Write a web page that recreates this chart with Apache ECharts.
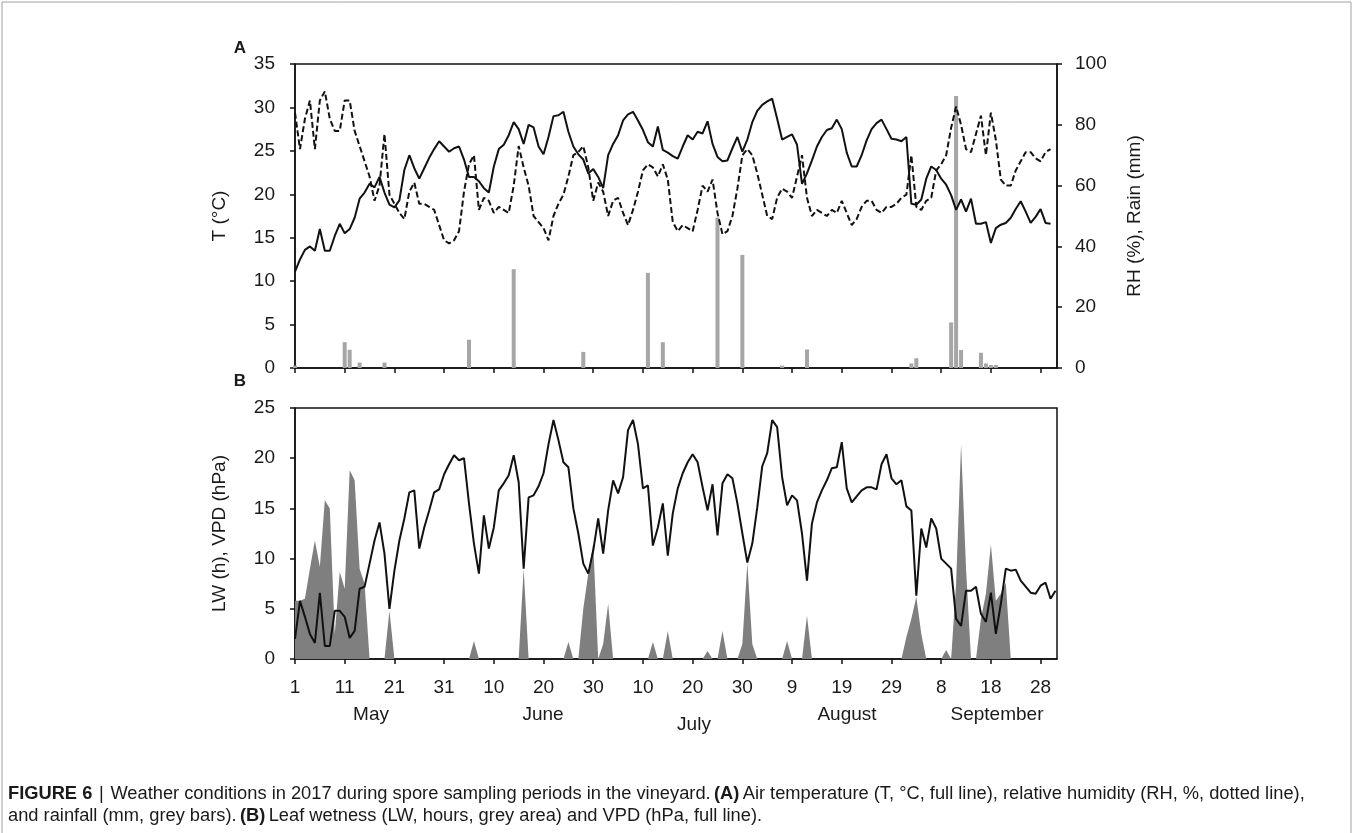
<!DOCTYPE html>
<html>
<head>
<meta charset="utf-8">
<script src="https://cdn.jsdelivr.net/npm/echarts@6/dist/echarts.min.js"></script>
<style>
html,body{margin:0;padding:0;background:#fff;}
#chart{width:1355px;height:833px;}
</style>
</head>
<body>
<div id="chart"></div>
<script>
// Day index 0 = 1 May 2017
const xTickValues = [0,10,20,30,40,50,60,70,80,90,100,110,120,130,140,150];
const xTickLabels = ['1','11','21','31','10','20','30','10','20','30','9','19','29','8','18','28'];
const monthNames = ['May','June','July','August','September'];

// Panel A: air temperature (°C), daily
const temperature = [
11.1,12.5,13.6,14.0,13.5,16.0,13.5,13.5,15.2,16.6,
15.5,16.0,17.3,19.5,20.2,21.2,20.8,22.0,20.2,18.8,
18.5,19.3,22.8,24.5,23.0,21.8,23.0,24.2,25.2,26.1,
25.5,24.9,25.3,25.5,24.0,22.0,22.0,21.5,20.7,20.2,
23.2,25.2,25.7,26.8,28.3,27.5,25.8,28.0,27.7,25.5,
24.6,26.6,29.0,29.1,29.5,27.2,25.5,24.6,24.0,22.4,
22.9,22.0,20.7,24.5,25.8,26.8,28.5,29.2,29.5,28.5,
27.4,26.0,25.5,27.8,25.1,24.8,24.4,24.1,25.5,26.8,
26.3,27.2,27.0,28.4,25.8,24.3,23.8,23.9,25.3,26.6,
24.9,26.3,28.3,29.6,30.3,30.7,31.0,28.7,26.3,26.6,
26.9,25.7,21.2,22.4,23.9,25.5,26.6,27.4,27.6,28.6,
27.5,24.8,23.2,23.2,24.5,26.2,27.5,28.2,28.6,27.5,
26.4,26.3,26.1,26.6,18.9,18.8,19.4,21.8,23.2,22.8,
21.8,21.1,19.9,18.2,19.4,18.0,19.5,16.6,16.6,16.8,
14.4,16.1,16.5,16.7,17.3,18.3,19.2,18.0,16.7,17.4,
18.3,16.7,16.6
];

// Panel A: relative humidity (%), daily
const humidity = [
84,72,82,88,72,88,91,82,78,78,
88,88,78,73,68,63,55,60,77,57,
54,51,49,58,61,54,54,53,52,47,
42,41,42,45,58,67,70,52,56,55,
51,53,52,51,60,73,66,60,50,48,
46,42,50,54,57,63,70,71,73,66,
55,61,58,50,55,56,51,47,52,58,
65,67,66,63,67,62,48,45,47,46,
45,52,60,58,62,51,44,45,50,59,
70,72,70,64,57,50,49,56,59,58,
56,63,70,56,50,52,51,50,52,51,
55,51,47,49,53,55,55,52,51,53,
53,54,56,57,70,53,52,55,56,65,
67,70,79,86,80,72,71,77,83,70,
84,75,62,60,60,65,68,71,71,69,
68,71,72
];

// Panel A: rainfall (mm), days with rain
const rainDays   = [0,10,11,13,18,35,44,58,71,74,85,90,98,103,124,125,132,133,134,138,139,140,141];
const rainValues = [0.8,8.5,6.0,1.8,1.8,9.3,32.5,5.3,31.3,8.5,49.5,37.2,0.8,6.1,1.5,3.2,15.0,89.5,5.9,5.0,1.5,1.0,1.0];

// Panel B: leaf wetness (h), daily
const leafWetness = [
5.8,5.8,6.0,9.0,11.8,9.2,15.8,15.0,2.5,8.7,
7.0,18.8,17.8,9.0,7.5,0,0,0,0,4.8,
0,0,0,0,0,0,0,0,0,0,
0,0,0,0,0,0,1.8,0,0,0,
0,0,0,0,0,0,9.0,0,0,0,
0,0,0,0,0,1.7,0,0,5.0,8.5,
11.5,0,1.5,5.5,0,0,0,0,0,0,
0,0,1.7,0,0,2.8,0,0,0,0,
0,0,0,0.8,0,0,2.8,0,0,0,
1.5,9.6,1.5,0,0,0,0,0,0,1.8,
0,0,0,4.3,0,0,0,0,0,0,
0,0,0,0,0,0,0,0,0,0,
0,0,0,2.2,4.0,6.2,2.5,0,0,0,
0,0.9,0,7.5,21.4,9.0,0,0,4.0,6.5,
11.4,5.8,6.5,7.6,0,0,0,0,0,0,
0,0,0,0
];

// Panel B: vapour pressure deficit (hPa), daily
const vpd = [
2.0,5.8,4.2,2.5,1.6,6.6,1.3,1.3,4.8,4.8,
4.2,2.1,2.8,7.0,7.2,9.5,11.8,13.6,10.5,5.0,
8.8,11.8,14.0,16.6,16.8,11.0,13.1,14.8,16.6,16.9,
18.4,19.4,20.3,19.8,20.0,15.5,11.5,8.5,14.3,11.0,
13.1,16.8,17.5,18.3,20.3,17.6,9.0,16.1,16.3,17.2,
18.5,21.4,23.8,21.8,19.6,19.1,15.0,12.5,9.5,8.5,
10.8,14.0,10.5,14.8,17.8,16.5,18.1,22.8,23.8,21.4,
17.0,17.3,11.3,13.1,15.5,10.3,14.5,17.0,18.5,19.6,
20.4,19.6,17.1,14.8,17.4,12.3,17.5,18.4,18.0,15.5,
12.5,9.6,11.5,15.1,19.2,20.5,23.8,23.1,18.1,15.3,
16.3,15.8,12.5,7.8,13.5,15.6,16.8,17.8,19.0,19.1,
21.6,17.0,15.6,16.2,16.8,17.1,17.1,16.9,19.4,20.4,
18.0,17.4,17.8,15.2,14.8,6.3,13.0,11.1,14.0,13.0,
10.0,9.5,9.0,4.0,3.3,6.8,6.8,7.2,4.5,3.7,
6.6,2.5,5.5,9.0,8.8,8.9,7.8,7.2,6.6,6.5,
7.3,7.6,6.0,6.8
];

const pairs = arr => arr.map((v, i) => [i, v]);
const FONT = '"Liberation Sans", Arial, sans-serif';
const TXT = '#1a1a1a';

const chart = echarts.init(document.getElementById('chart'), null, {renderer: 'canvas'});

const axisLineStyle = {show: true, lineStyle: {color: '#111', width: 1.5}};
const tickStyle = {show: true, inside: false, length: 5, lineStyle: {color: '#111', width: 1.5}};
const labelStyle = {fontFamily: FONT, fontSize: 19, color: TXT};
const nameStyle = {fontFamily: FONT, fontSize: 19, color: TXT};

const xBase = {
  type: 'value', min: 0, max: 153.3,
  axisLine: axisLineStyle,
  axisTick: Object.assign({}, tickStyle, {customValues: xTickValues}),
  splitLine: {show: false}
};

const capFont = 18.3;
const option = {
  animation: false,
  backgroundColor: '#fff',
  grid: [
    {left: 295, right: 298, top: 64, height: 304, show: true, borderColor: '#111', borderWidth: 1.5, backgroundColor: 'transparent'},
    {left: 295, right: 298, top: 408, height: 251, show: true, borderColor: '#111', borderWidth: 1.5, backgroundColor: 'transparent'}
  ],
  xAxis: [
    Object.assign({}, xBase, {gridIndex: 0, axisLabel: {show: false}}),
    Object.assign({}, xBase, {gridIndex: 1, axisLabel: Object.assign({}, labelStyle, {
      customValues: xTickValues, margin: 19,
      formatter: v => xTickLabels[Math.round(v / 10)] || ''
    })})
  ],
  yAxis: [
    {type: 'value', gridIndex: 0, min: 0, max: 35, interval: 5, position: 'left',
     name: 'T (°C)', nameLocation: 'middle', nameGap: 66, nameRotate: 90, nameTextStyle: nameStyle,
     axisLine: axisLineStyle, axisTick: tickStyle, splitLine: {show: false},
     axisLabel: Object.assign({}, labelStyle, {margin: 20})},
    {type: 'value', gridIndex: 0, min: 0, max: 100, interval: 20, position: 'right',
     name: 'RH (%), Rain (mm)', nameLocation: 'middle', nameGap: 68, nameRotate: 90, nameTextStyle: nameStyle,
     axisLine: axisLineStyle, axisTick: tickStyle, splitLine: {show: false},
     axisLabel: Object.assign({}, labelStyle, {margin: 18})},
    {type: 'value', gridIndex: 1, min: 0, max: 25, interval: 5, position: 'left',
     name: 'LW (h), VPD (hPa)', nameLocation: 'middle', nameGap: 66, nameRotate: 90, nameTextStyle: nameStyle,
     axisLine: axisLineStyle, axisTick: tickStyle, splitLine: {show: false},
     axisLabel: Object.assign({}, labelStyle, {margin: 20})}
  ],
  series: [
    {name: 'Rain', type: 'bar', xAxisIndex: 0, yAxisIndex: 1, barWidth: 4,
     itemStyle: {color: '#a6a6a6'}, z: 1,
     data: rainDays.map((d, i) => [d, rainValues[i]])},
    {name: 'RH', type: 'line', xAxisIndex: 0, yAxisIndex: 1, symbol: 'none', z: 3,
     lineStyle: {color: '#111', width: 2, type: [6, 3]},
     data: pairs(humidity)},
    {name: 'T', type: 'line', xAxisIndex: 0, yAxisIndex: 0, symbol: 'none', z: 4,
     lineStyle: {color: '#111', width: 2},
     data: pairs(temperature)},
    {name: 'LW', type: 'line', xAxisIndex: 1, yAxisIndex: 2, symbol: 'none', z: 2,
     lineStyle: {width: 0, color: '#7f7f7f'}, itemStyle: {color: '#7f7f7f'},
     areaStyle: {color: '#7f7f7f', opacity: 1},
     data: pairs(leafWetness)},
    {name: 'VPD', type: 'line', xAxisIndex: 1, yAxisIndex: 2, symbol: 'none', z: 4,
     lineStyle: {color: '#111', width: 2},
     data: pairs(vpd)}
  ],
  graphic: [
    {type: 'rect', shape: {x: 2, y: 2, width: 1349, height: 860}, style: {fill: 'none', stroke: '#a0a0a0', lineWidth: 1}, silent: true},
    {type: 'text', x: 240, y: 48, style: {text: 'A', font: 'bold 17px ' + FONT, fill: TXT, align: 'center', verticalAlign: 'middle'}},
    {type: 'text', x: 240, y: 381, style: {text: 'B', font: 'bold 17px ' + FONT, fill: TXT, align: 'center', verticalAlign: 'middle'}},
    {type: 'text', x: 371, y: 715, style: {text: monthNames[0], font: '19px ' + FONT, fill: TXT, align: 'center', verticalAlign: 'middle'}},
    {type: 'text', x: 543, y: 715, style: {text: monthNames[1], font: '19px ' + FONT, fill: TXT, align: 'center', verticalAlign: 'middle'}},
    {type: 'text', x: 694, y: 725, style: {text: monthNames[2], font: '19px ' + FONT, fill: TXT, align: 'center', verticalAlign: 'middle'}},
    {type: 'text', x: 847, y: 715, style: {text: monthNames[3], font: '19px ' + FONT, fill: TXT, align: 'center', verticalAlign: 'middle'}},
    {type: 'text', x: 997, y: 715, style: {text: monthNames[4], font: '19px ' + FONT, fill: TXT, align: 'center', verticalAlign: 'middle'}},
    {type: 'text', x: 8, y: 794, style: {
      text: '{b|FIGURE 6}  {n||}  {n|Weather conditions in 2017 during spore sampling periods in the vineyard.} {b|(A)} {n|Air temperature (T, °C, full line), relative humidity (RH, %, dotted line),}',
      verticalAlign: 'middle',
      rich: {b: {font: 'bold ' + capFont + 'px ' + FONT, fill: TXT}, n: {font: capFont + 'px ' + FONT, fill: TXT}}}},
    {type: 'text', x: 8, y: 816, style: {
      text: '{n|and rainfall (mm, grey bars).} {b|(B)} {n|Leaf wetness (LW, hours, grey area) and VPD (hPa, full line).}',
      verticalAlign: 'middle',
      rich: {b: {font: 'bold ' + capFont + 'px ' + FONT, fill: TXT}, n: {font: capFont + 'px ' + FONT, fill: TXT}}}}
  ]
};
chart.setOption(option);
</script>
</body>
</html>
